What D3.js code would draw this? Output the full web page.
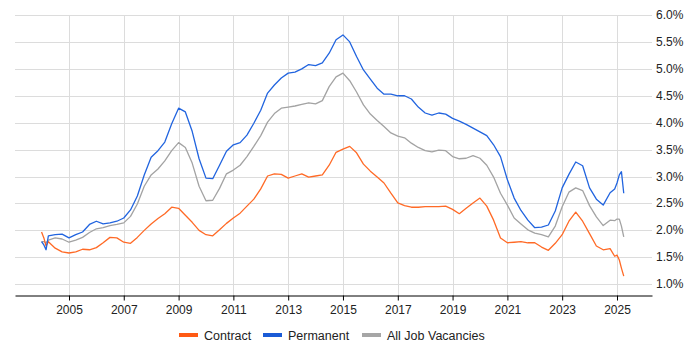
<!DOCTYPE html>
<html>
<head>
<meta charset="utf-8">
<script src="https://cdn.jsdelivr.net/npm/d3@7"></script>
<style>
  body { margin: 0; background: #fff; }
  svg { font-family: "Liberation Sans", Arial, sans-serif; }
</style>
</head>
<body>
<svg id="chart" width="700" height="350"></svg>
<script>
// month of each reading (quarterly, with a few extra months at the ends)
var months = [
  "2004-01","2004-02","2004-03","2004-04","2004-07","2004-10",
  "2005-01","2005-04","2005-07","2005-10","2006-01","2006-04","2006-07","2006-10",
  "2007-01","2007-04","2007-07","2007-10","2008-01","2008-04","2008-07","2008-10",
  "2009-01","2009-04","2009-07","2009-10","2010-01","2010-04","2010-07","2010-10",
  "2011-01","2011-04","2011-07","2011-10","2012-01","2012-04","2012-07","2012-10",
  "2013-01","2013-04","2013-07","2013-10","2014-01","2014-04","2014-07","2014-10",
  "2015-01","2015-04","2015-07","2015-10","2016-01","2016-04","2016-07","2016-10",
  "2017-01","2017-04","2017-07","2017-10","2018-01","2018-04","2018-07","2018-10",
  "2019-01","2019-04","2019-07","2019-10","2020-01","2020-04","2020-07","2020-10",
  "2021-01","2021-04","2021-07","2021-10","2022-01","2022-04","2022-07","2022-10",
  "2023-01","2023-04","2023-07","2023-10","2024-01","2024-04","2024-07","2024-10",
  "2024-12","2025-01","2025-02","2025-03","2025-04"
];

var contract = [
  1.97,1.86,1.71,1.79,1.67,1.60,
  1.58,1.60,1.65,1.64,1.68,1.77,1.87,1.86,
  1.78,1.76,1.87,2.00,2.12,2.22,2.31,2.43,
  2.41,2.28,2.15,2.00,1.92,1.90,2.01,2.13,
  2.23,2.32,2.45,2.58,2.77,3.01,3.05,3.04,
  2.97,3.01,3.05,2.99,3.01,3.03,3.21,3.45,
  3.51,3.56,3.44,3.23,3.10,2.99,2.88,2.69,
  2.51,2.46,2.43,2.43,2.44,2.44,2.44,2.45,
  2.39,2.31,2.41,2.51,2.60,2.45,2.19,1.86,
  1.77,1.78,1.79,1.77,1.77,1.69,1.63,1.76,
  1.92,2.17,2.34,2.17,1.94,1.71,1.64,1.66,
  1.52,1.54,1.45,1.30,1.15
];

var permanent = [
  1.79,1.73,1.64,1.90,1.92,1.93,
  1.86,1.92,1.97,2.11,2.17,2.12,2.14,2.17,
  2.23,2.38,2.64,3.03,3.36,3.48,3.64,3.98,
  4.27,4.20,3.84,3.33,2.97,2.96,3.21,3.47,
  3.59,3.63,3.77,3.99,4.23,4.55,4.70,4.83,
  4.92,4.94,5.00,5.08,5.06,5.11,5.29,5.54,
  5.63,5.50,5.23,4.98,4.81,4.64,4.53,4.53,
  4.50,4.50,4.44,4.29,4.18,4.14,4.18,4.16,
  4.08,4.03,3.97,3.90,3.83,3.76,3.59,3.37,
  2.94,2.60,2.37,2.19,2.05,2.06,2.10,2.36,
  2.79,3.04,3.27,3.20,2.79,2.58,2.47,2.70,
  2.77,2.88,3.03,3.09,2.69
];

var allJobs = [
  1.79,1.79,1.77,1.82,1.86,1.84,
  1.78,1.82,1.87,1.96,2.03,2.05,2.09,2.11,
  2.14,2.26,2.49,2.82,3.03,3.14,3.29,3.48,
  3.63,3.54,3.25,2.82,2.55,2.56,2.78,3.05,
  3.12,3.21,3.37,3.56,3.76,4.01,4.17,4.27,
  4.29,4.31,4.34,4.37,4.35,4.41,4.67,4.85,
  4.92,4.78,4.57,4.33,4.16,4.04,3.93,3.81,
  3.75,3.72,3.62,3.54,3.48,3.46,3.49,3.48,
  3.37,3.33,3.34,3.39,3.34,3.21,2.99,2.69,
  2.47,2.23,2.12,2.01,1.95,1.92,1.88,2.08,
  2.44,2.71,2.79,2.74,2.46,2.25,2.09,2.19,
  2.18,2.21,2.21,2.08,1.88
];

var seriesNames = ["Contract", "Permanent", "All Job Vacancies"];
var seriesColors = ["#ff6a26", "#2164df", "#a3a3a3"];
var legendColors = ["#ff5a14", "#1a5bd6", "#a6a6a6"];
var yTicks = [1.0, 1.5, 2.0, 2.5, 3.0, 3.5, 4.0, 4.5, 5.0, 5.5, 6.0];
var xTickYears = [2005, 2007, 2009, 2011, 2013, 2015, 2017, 2019, 2021, 2023, 2025];

var parseMonth = d3.timeParse("%Y-%m");
var dates = months.map(parseMonth);

var svg = d3.select("#chart");
var plotL = 15, plotR = 652, plotT = 15, plotB = 295;

// place 2005 and 2025 on the gridlines, then stretch to the plot edges
var xTmp = d3.scaleTime()
  .domain([new Date(2005, 0, 1), new Date(2025, 0, 1)])
  .range([69, 617]);
var x = d3.scaleTime()
  .domain([xTmp.invert(plotL), xTmp.invert(plotR)])
  .range([plotL, plotR]);

var y = d3.scaleLinear().domain([0.8, 6.0]).range([plotB, plotT]);

// grid
var grid = svg.append("g").attr("class", "grid");
grid.selectAll("line.h").data(yTicks).enter().append("line")
  .attr("class", "h")
  .attr("x1", plotL).attr("x2", plotR)
  .attr("y1", function(d) { return Math.round(y(d)) + 0.5; })
  .attr("y2", function(d) { return Math.round(y(d)) + 0.5; })
  .attr("stroke", "#dcdcdc").attr("stroke-width", 1);
grid.selectAll("line.v").data(xTickYears).enter().append("line")
  .attr("class", "v")
  .attr("x1", function(d) { return Math.round(x(new Date(d, 0, 1))) + 0.5; })
  .attr("x2", function(d) { return Math.round(x(new Date(d, 0, 1))) + 0.5; })
  .attr("y1", plotT).attr("y2", plotB)
  .attr("stroke", "#dcdcdc").attr("stroke-width", 1);

// y labels on the right
svg.append("g").selectAll("text").data(yTicks).enter().append("text")
  .attr("x", 656)
  .attr("y", function(d) { return y(d) + 4; })
  .attr("font-size", 12)
  .attr("fill", "#222")
  .text(function(d) { return d.toFixed(1) + "%"; });

// x axis
var xAxis = d3.axisBottom(x)
  .tickValues(xTickYears.map(function(d) { return new Date(d, 0, 1); }))
  .tickFormat(d3.timeFormat("%Y"))
  .tickSizeInner(5).tickSizeOuter(0);
var gx = svg.append("g")
  .attr("transform", "translate(0," + (plotB + 0.5) + ")")
  .call(xAxis);
gx.select(".domain").attr("stroke", "#000");
gx.selectAll(".tick line").attr("stroke", "#000");
gx.selectAll(".tick text")
  .attr("font-size", 12).attr("fill", "#222")
  .attr("font-family", "Liberation Sans, Arial, sans-serif")
  .attr("dy", "0.9em");

// lines
var line = d3.line()
  .x(function(d) { return x(d[0]); })
  .y(function(d) { return y(d[1]); });

var allSeries = [contract, permanent, allJobs];
// draw order: all jobs, contract, permanent
[2, 0, 1].forEach(function(i) {
  var pts = dates.map(function(dt, k) { return [dt, allSeries[i][k]]; });
  svg.append("path")
    .datum(pts)
    .attr("fill", "none")
    .attr("stroke", seriesColors[i])
    .attr("stroke-width", 1.3)
    .attr("stroke-linejoin", "round")
    .attr("d", line);
});

// legend
var legendX = [179, 263, 362];
var legend = svg.append("g");
seriesNames.forEach(function(name, i) {
  legend.append("rect")
    .attr("x", legendX[i]).attr("y", 333)
    .attr("width", 19).attr("height", 4)
    .attr("fill", legendColors[i]);
  legend.append("text")
    .attr("x", legendX[i] + 25).attr("y", 339.5)
    .attr("font-size", 12.5).attr("fill", "#222")
    .text(name);
});
</script>
</body>
</html>
